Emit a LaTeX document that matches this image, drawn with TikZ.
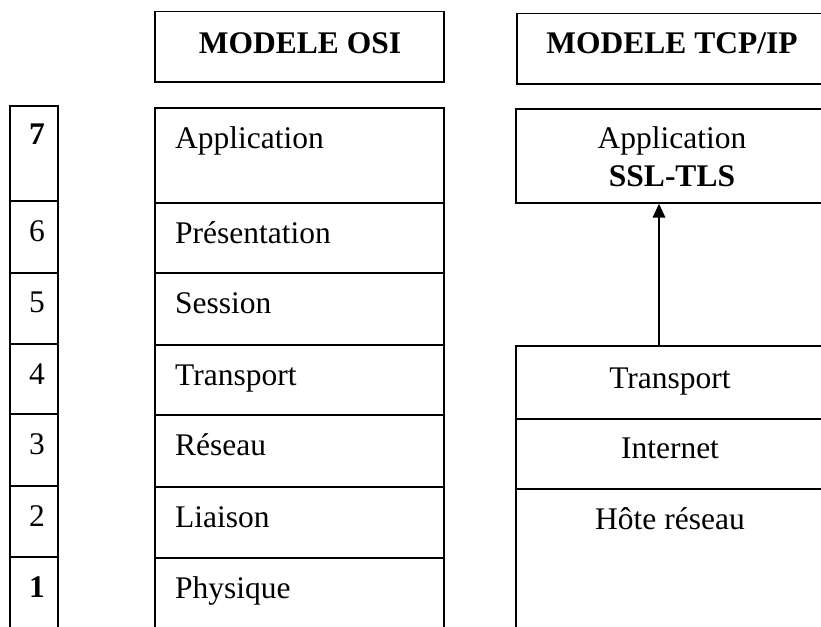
\documentclass[tikz,border=0pt]{standalone}
\usepackage{fontspec}
\setmainfont{Liberation Serif}
\usetikzlibrary{arrows.meta}
\begin{document}
\begin{tikzpicture}[x=1pt,y=-1pt,
  box/.style={draw=black, line width=1.5pt, rectangle, inner sep=0pt, anchor=north west},
  txt/.style={inner sep=0pt, font=\fontsize{31.5}{37}\selectfont},
  btxt/.style={inner sep=0pt, font=\fontsize{31.5}{37}\selectfont\bfseries},
  uparrow/.style={line width=2.8pt, -{Triangle[length=14pt,width=12pt]}}]
\clip (0,0) rectangle (821,626);
\fill[white] (0,0) rectangle (821,626);
% number column
\node[box, minimum width=48pt, minimum height=95pt] (n7) at (9,105) {};
\node[box, minimum width=48pt, minimum height=72pt] (n6) at (9,200) {};
\node[box, minimum width=48pt, minimum height=71pt] (n5) at (9,272) {};
\node[box, minimum width=48pt, minimum height=70pt] (n4) at (9,343) {};
\node[box, minimum width=48pt, minimum height=72pt] (n3) at (9,413) {};
\node[box, minimum width=48pt, minimum height=71pt] (n2) at (9,485) {};
\node[box, minimum width=48pt, minimum height=90pt] (n1) at (9,556) {};
\node[btxt, anchor=base] (t7) at (37,144) {7};
\node[txt, anchor=base] (t6) at (37,241) {6};
\node[txt, anchor=base] (t5) at (37,312) {5};
\node[txt, anchor=base] (t4) at (37,384) {4};
\node[txt, anchor=base] (t3) at (37,454) {3};
\node[txt, anchor=base] (t2) at (37,526) {2};
\node[btxt, anchor=base] (t1) at (37,597) {1};
% OSI column
\node[box, minimum width=289pt, minimum height=70pt] (osih) at (154,11) {};
\node[btxt, anchor=base] (osiht) at (300,54) {MODELE OSI};
\node[box, minimum width=289pt, minimum height=95pt] (o7) at (154,107) {};
\node[box, minimum width=289pt, minimum height=70pt] (o6) at (154,202) {};
\node[box, minimum width=289pt, minimum height=72pt] (o5) at (154,272) {};
\node[box, minimum width=289pt, minimum height=70pt] (o4) at (154,344) {};
\node[box, minimum width=289pt, minimum height=72pt] (o3) at (154,414) {};
\node[box, minimum width=289pt, minimum height=71pt] (o2) at (154,486) {};
\node[box, minimum width=289pt, minimum height=90pt] (o1) at (154,557) {};
\node[txt, anchor=base west] (ot7) at (175,148) {Application};
\node[txt, anchor=base west] (ot6) at (175,243) {Présentation};
\node[txt, anchor=base west] (ot5) at (175,313) {Session};
\node[txt, anchor=base west] (ot4) at (175,385) {Transport};
\node[txt, anchor=base west] (ot3) at (175,455) {Réseau};
\node[txt, anchor=base west] (ot2) at (175,527) {Liaison};
\node[txt, anchor=base west] (ot1) at (175,598) {Physique};
% TCP/IP column
\node[box, minimum width=320pt, minimum height=70pt] (tcph) at (516,13) {};
\node[btxt, anchor=base] (tcpht) at (672,54) {MODELE TCP/IP};
\node[box, minimum width=320pt, minimum height=94pt] (tapp) at (515,108) {};
\node[txt, anchor=base] (tappt) at (672,148) {Application};
\node[btxt, anchor=base] (tssl) at (672,186) {SSL-TLS};
\node[box, minimum width=320pt, minimum height=73pt] (ttr) at (515,345) {};
\node[box, minimum width=320pt, minimum height=70pt] (tin) at (515,418) {};
\node[box, minimum width=320pt, minimum height=150pt] (tho) at (515,488) {};
\node[txt, anchor=base] (ttrt) at (670,388) {Transport};
\node[txt, anchor=base] (tint) at (670,458) {Internet};
\node[txt, anchor=base] (thot) at (670,529) {Hôte réseau};
% arrow
\draw[uparrow] (ttr.north -| 659,0) -- (tapp.south -| 659,0);
\end{tikzpicture}
\end{document}
